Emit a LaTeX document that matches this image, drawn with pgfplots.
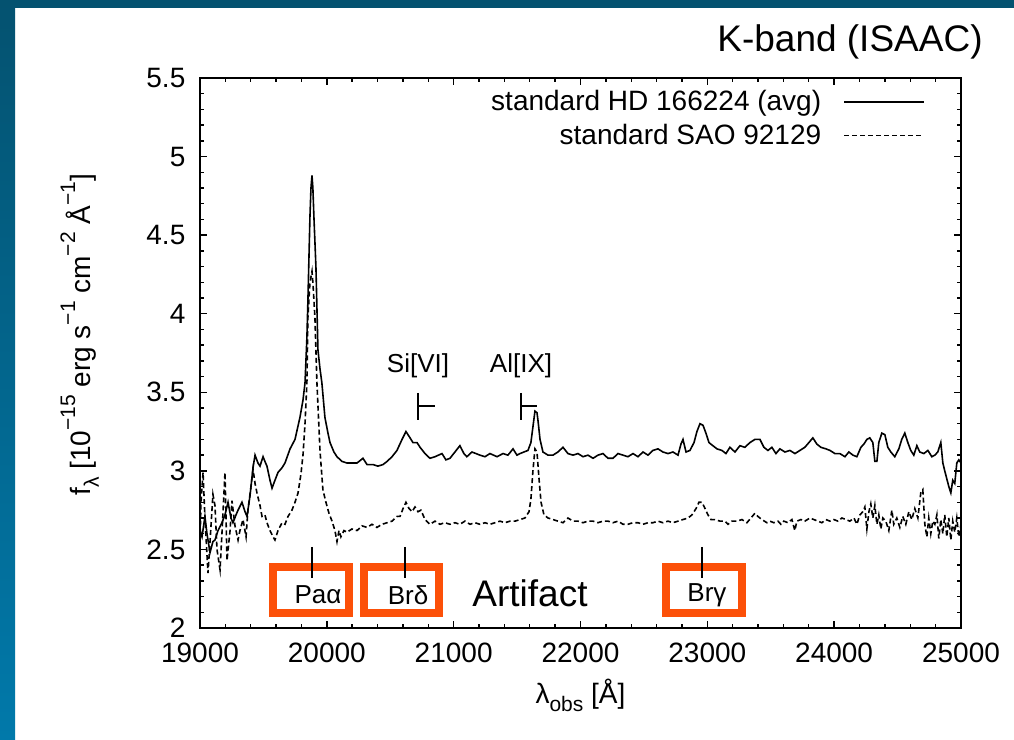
\documentclass[border=0pt]{standalone}
\usepackage{fontspec}
\setmainfont{Liberation Sans}
\usepackage{pgfplots}
\usepackage{pgfplotstable}
\pgfplotsset{compat=1.18}

\definecolor{slidetop}{RGB}{4,82,112}
\definecolor{slidebot}{RGB}{1,121,170}
\definecolor{boxorange}{RGB}{252,80,8}

% superscript / subscript helpers in the text font
\newcommand{\sups}[1]{\raisebox{0.55em}{\fontsize{10.5}{10.5}\selectfont #1}}
\newcommand{\subs}[1]{\raisebox{-0.3em}{\fontsize{10.5}{10.5}\selectfont #1}}

% standard HD 166224 (avg)
\pgfplotstableread{
lam f
19000 2.62
19016 2.58
19039 2.71
19055 2.60
19079 2.48
19102 2.55
19118 2.56
19142 2.62
19173 2.67
19197 2.72
19221 2.80
19244 2.70
19260 2.67
19284 2.72
19300 2.75
19331 2.80
19355 2.74
19371 2.71
19394 2.84
19418 3.02
19434 3.10
19457 3.05
19473 3.03
19497 3.09
19512 3.06
19528 3.03
19552 2.94
19568 2.89
19591 2.94
19615 2.99
19647 3.02
19670 3.05
19710 3.14
19749 3.20
19788 3.34
19812 3.45
19828 3.56
19843 3.85
19851 4.09
19867 4.62
19875 4.80
19883 4.88
19890 4.80
19898 4.62
19914 4.30
19930 3.77
19946 3.65
19961 3.56
19985 3.34
20009 3.24
20025 3.18
20056 3.12
20080 3.09
20120 3.06
20159 3.05
20198 3.05
20238 3.05
20285 3.08
20317 3.04
20364 3.04
20403 3.03
20443 3.04
20475 3.06
20514 3.09
20553 3.13
20593 3.20
20624 3.25
20656 3.21
20679 3.18
20711 3.18
20735 3.15
20774 3.11
20813 3.08
20853 3.09
20908 3.11
20939 3.07
20971 3.08
21010 3.12
21049 3.16
21081 3.11
21104 3.09
21144 3.12
21176 3.11
21207 3.10
21247 3.09
21286 3.11
21342 3.09
21389 3.11
21428 3.10
21468 3.14
21499 3.10
21523 3.11
21554 3.12
21586 3.13
21609 3.18
21625 3.28
21641 3.38
21657 3.37
21665 3.32
21681 3.20
21704 3.12
21744 3.10
21783 3.10
21822 3.12
21862 3.15
21901 3.11
21941 3.10
21980 3.11
22020 3.09
22059 3.10
22099 3.08
22138 3.10
22177 3.11
22217 3.08
22256 3.08
22296 3.11
22335 3.10
22374 3.09
22414 3.11
22453 3.09
22493 3.12
22532 3.10
22571 3.13
22611 3.14
22650 3.12
22690 3.11
22729 3.12
22769 3.10
22792 3.17
22808 3.20
22832 3.12
22863 3.13
22895 3.18
22918 3.25
22942 3.30
22966 3.29
22989 3.24
23013 3.18
23044 3.16
23076 3.14
23115 3.13
23147 3.11
23178 3.15
23218 3.12
23257 3.16
23296 3.15
23336 3.18
23375 3.20
23415 3.20
23446 3.15
23478 3.13
23509 3.15
23541 3.11
23572 3.14
23612 3.12
23651 3.13
23691 3.11
23730 3.13
23769 3.15
23801 3.18
23832 3.21
23864 3.17
23895 3.15
23935 3.14
23967 3.13
24006 3.11
24045 3.11
24085 3.09
24116 3.12
24148 3.10
24179 3.09
24211 3.15
24234 3.17
24258 3.20
24281 3.21
24305 3.18
24321 3.06
24337 3.06
24352 3.18
24376 3.24
24400 3.23
24423 3.15
24447 3.12
24478 3.09
24510 3.14
24533 3.20
24557 3.24
24581 3.18
24604 3.13
24628 3.10
24652 3.16
24675 3.12
24707 3.11
24739 3.13
24770 3.09
24794 3.10
24817 3.12
24841 3.18
24857 3.05
24872 3.00
24888 2.95
24904 2.90
24920 2.86
24935 2.94
24951 2.92
24967 3.05
24983 3.07
25000 3.05
}\tblHD

% standard SAO 92129
\pgfplotstableread{
lam f
19000 2.55
19008 2.80
19024 2.99
19039 2.70
19063 2.35
19079 2.55
19102 2.85
19118 2.78
19134 2.50
19158 2.37
19173 2.60
19197 2.99
19213 2.43
19237 2.62
19252 2.81
19276 2.65
19300 2.56
19315 2.62
19339 2.69
19363 2.58
19378 2.75
19402 2.90
19418 3.01
19434 2.92
19449 2.86
19473 2.78
19489 2.71
19512 2.72
19528 2.67
19552 2.62
19576 2.58
19591 2.56
19615 2.62
19647 2.67
19670 2.66
19694 2.71
19725 2.75
19749 2.80
19773 2.86
19796 2.98
19812 3.10
19828 3.30
19843 3.56
19851 3.98
19867 4.20
19883 4.27
19890 4.20
19906 3.98
19922 3.56
19946 3.13
19969 2.88
19993 2.80
20017 2.73
20041 2.68
20064 2.62
20080 2.55
20096 2.62
20111 2.58
20135 2.62
20159 2.61
20198 2.63
20238 2.62
20277 2.65
20317 2.64
20356 2.66
20395 2.64
20435 2.66
20475 2.67
20514 2.68
20553 2.71
20577 2.71
20601 2.76
20624 2.80
20648 2.76
20672 2.74
20695 2.77
20719 2.74
20742 2.75
20774 2.69
20813 2.66
20853 2.68
20892 2.66
20931 2.67
20971 2.66
21010 2.67
21049 2.66
21089 2.68
21129 2.66
21168 2.67
21207 2.66
21247 2.67
21286 2.66
21326 2.67
21365 2.68
21405 2.67
21444 2.68
21484 2.68
21523 2.69
21562 2.70
21594 2.74
21609 2.82
21625 3.00
21641 3.14
21657 3.12
21673 2.95
21689 2.80
21712 2.72
21744 2.70
21783 2.69
21822 2.68
21862 2.67
21901 2.70
21941 2.68
21980 2.68
22020 2.67
22059 2.68
22099 2.68
22138 2.67
22177 2.68
22217 2.68
22256 2.67
22296 2.68
22335 2.66
22374 2.66
22414 2.67
22453 2.67
22493 2.66
22532 2.67
22571 2.67
22611 2.68
22650 2.67
22690 2.68
22729 2.67
22769 2.68
22808 2.69
22848 2.70
22879 2.72
22911 2.76
22934 2.80
22958 2.80
22982 2.76
23005 2.72
23029 2.69
23060 2.69
23100 2.68
23139 2.68
23163 2.66
23194 2.68
23233 2.68
23273 2.69
23312 2.67
23344 2.70
23375 2.73
23399 2.71
23430 2.69
23470 2.67
23493 2.68
23525 2.67
23557 2.68
23580 2.66
23604 2.68
23635 2.67
23667 2.69
23690 2.62
23706 2.68
23738 2.69
23769 2.68
23809 2.70
23840 2.69
23872 2.68
23903 2.67
23935 2.69
23967 2.68
23998 2.69
24030 2.68
24061 2.70
24093 2.69
24124 2.68
24156 2.70
24179 2.66
24203 2.72
24226 2.74
24242 2.77
24258 2.63
24274 2.74
24289 2.79
24305 2.70
24321 2.78
24337 2.66
24352 2.72
24368 2.63
24384 2.70
24407 2.68
24431 2.62
24455 2.75
24470 2.66
24494 2.70
24518 2.64
24541 2.71
24565 2.66
24589 2.74
24612 2.69
24636 2.76
24660 2.70
24683 2.86
24699 2.88
24715 2.66
24731 2.58
24746 2.70
24762 2.60
24778 2.68
24794 2.66
24810 2.72
24825 2.57
24841 2.69
24857 2.60
24872 2.72
24888 2.58
24904 2.70
24920 2.56
24935 2.68
24951 2.61
24967 2.70
24983 2.58
25000 2.66
}\tblSAO

\begin{document}
\begin{tikzpicture}
% slide background
\useasboundingbox (0,0) rectangle (507pt,370pt);
\fill[white] (0,0) rectangle (507pt,370pt);
\shade[top color=slidetop, bottom color=slidebot] (0,0) rectangle (7.5pt,370pt);
\fill[slidetop] (0,366pt) rectangle (507pt,370pt);
\node[font=\fontsize{18.5}{20}\selectfont, anchor=center] at (425pt,349pt) {K-band (ISAAC)};

\begin{axis}[
  at={(100pt,56pt)}, anchor=south west,
  scale only axis, width=380.5pt, height=275pt,
  xmin=19000, xmax=25000, ymin=2, ymax=5.5,
  xtick={19000,20000,...,25000},
  ytick={2,2.5,...,5.5},
  minor x tick num=4, minor y tick num=4,
  major tick length=3.5pt, minor tick length=1.8pt,
  tick align=inside,
  axis line style={line width=0.9pt},
  every tick/.style={line width=0.7pt, black},
  scaled x ticks=false,
  /pgf/number format/.cd, set thousands separator={}, assume math mode=true, /pgfplots/.cd,
  tick label style={font=\fontsize{14}{14}\selectfont},
  xticklabel style={yshift=-4pt},
  yticklabel style={xshift=-3.8pt},
  xlabel={λ\subs{obs} [Å]},
  ylabel={f\subs{λ} [10\sups{−15} erg s\sups{−1} cm\sups{−2} Å\sups{−1}]},
  label style={font=\fontsize{14}{14}\selectfont},
  xlabel style={at={(axis description cs:0.5,-0.122)}, anchor=center},
  ylabel style={at={(axis description cs:-0.158,0.533)}, anchor=center},
  clip=false,
  legend plot pos=right,
  legend cell align=right,
  legend image code/.code={\draw[#1] (0pt,0pt) -- (40pt,0pt);},
  legend style={draw=none, fill=none, at={(axis description cs:0.953,0.985)}, anchor=north east,
    font=\fontsize{14}{14}\selectfont, inner sep=0pt, row sep=1pt,
    /tikz/every odd column/.append style={column sep=9pt}},
]
\addplot[black, line width=0.8pt] table[x=lam, y=f] {\tblHD};
\addlegendentry{standard HD 166224 (avg)}
\addplot[black, line width=0.8pt, dash pattern=on 2.5pt off 1.5pt] table[x=lam, y=f] {\tblSAO};
\addlegendentry{standard SAO 92129}

% coronal line markers
\draw[line width=0.6pt] (axis cs:20719,3.496) -- (axis cs:20719,3.324);
\draw[line width=0.6pt] (axis cs:20719,3.413) -- (axis cs:20853,3.413);
\draw[line width=0.6pt] (axis cs:21531,3.496) -- (axis cs:21531,3.324);
\draw[line width=0.6pt] (axis cs:21531,3.413) -- (axis cs:21657,3.413);
\node[font=\fontsize{13}{13}\selectfont] at (axis cs:20719,3.668) {Si[VI]};
\node[font=\fontsize{13}{13}\selectfont] at (axis cs:21531,3.668) {Al[IX]};

% hydrogen line boxes
\draw[boxorange, line width=4pt] (axis cs:19576,2.096) rectangle (axis cs:20175,2.388);
\draw[boxorange, line width=4pt] (axis cs:20293,2.096) rectangle (axis cs:20884,2.388);
\draw[boxorange, line width=4pt] (axis cs:22674,2.096) rectangle (axis cs:23273,2.388);
\draw[line width=0.6pt] (axis cs:19883,2.516) -- (axis cs:19883,2.318);
\draw[line width=0.6pt] (axis cs:20616,2.516) -- (axis cs:20616,2.318);
\draw[line width=0.6pt] (axis cs:22958,2.516) -- (axis cs:22958,2.318);
\node[font=\fontsize{13}{13}\selectfont] at (axis cs:19930,2.21) {Paα};
\node[font=\fontsize{13}{13}\selectfont] at (axis cs:20640,2.21) {Brδ};
\node[font=\fontsize{13}{13}\selectfont] at (axis cs:22997,2.21) {Brγ};
\node[font=\fontsize{18.5}{20}\selectfont] at (axis cs:21602,2.22) {Artifact};
\end{axis}
\end{tikzpicture}
\end{document}
